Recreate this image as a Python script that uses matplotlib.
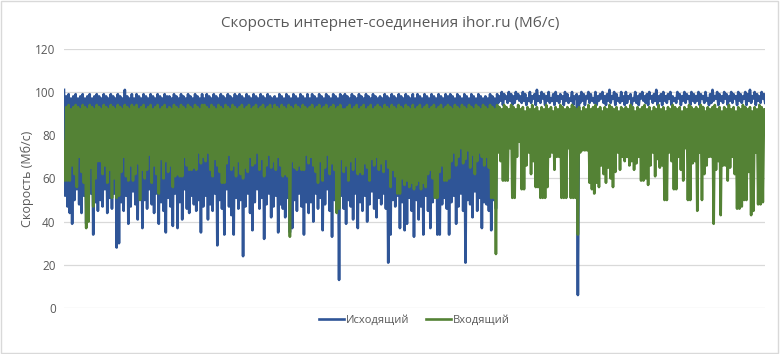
import numpy as np
import matplotlib.pyplot as plt
from matplotlib.patches import Rectangle

plt.rcParams['font.family'] = ['Open Sans', 'DejaVu Sans']

title = 'Скорость интернет-соединения ihor.ru (Мб/с)'
ylabel = 'Скорость (Мб/с)'
labels = ['Исходящий', 'Входящий']

# outgoing speed, Mb/s (30 values per row)
outgoing = [
    101, 52, 98, 47, 99, 44, 97, 39, 98, 50, 99, 55, 97, 48, 98, 44, 99, 52, 97, 39, 98, 46, 99, 53, 97, 34, 98, 49, 99, 45,
    98, 50, 97, 47, 99, 55, 98, 44, 97, 51, 99, 46, 98, 53, 97, 28, 99, 30, 98, 49, 97, 45, 101, 52, 98, 39, 97, 47, 99, 54,
    97, 48, 99, 41, 98, 52, 97, 37, 99, 50, 98, 46, 97, 55, 99, 48, 98, 44, 97, 53, 99, 39, 98, 49, 97, 45, 99, 35, 98, 51,
    98, 47, 97, 38, 99, 53, 98, 37, 97, 49, 99, 41, 98, 55, 97, 46, 99, 44, 98, 52, 97, 48, 99, 45, 98, 50, 97, 35, 99, 47,
    97, 52, 99, 41, 98, 48, 97, 45, 99, 53, 98, 29, 97, 50, 99, 46, 98, 34, 97, 55, 99, 47, 98, 43, 97, 34, 99, 51, 98, 46,
    99, 50, 98, 24, 97, 47, 99, 53, 98, 44, 97, 36, 99, 49, 98, 55, 97, 46, 99, 51, 98, 32, 97, 48, 99, 53, 98, 42, 97, 47,
    98, 52, 97, 35, 99, 48, 98, 46, 97, 42, 99, 51, 98, 35, 97, 37, 99, 50, 98, 45, 97, 53, 99, 47, 98, 34, 97, 49, 99, 44,
    97, 49, 99, 40, 98, 53, 97, 46, 99, 51, 98, 36, 97, 48, 99, 55, 98, 45, 97, 33, 99, 50, 98, 47, 97, 13, 99, 52, 98, 46,
    99, 39, 98, 50, 97, 47, 99, 41, 98, 53, 97, 37, 99, 49, 98, 45, 97, 52, 99, 40, 98, 48, 97, 54, 99, 46, 98, 42, 97, 51,
    98, 48, 97, 53, 99, 46, 98, 21, 97, 34, 99, 50, 98, 47, 97, 52, 99, 37, 98, 49, 97, 36, 99, 39, 98, 51, 97, 45, 99, 33,
    97, 50, 99, 41, 98, 47, 97, 34, 99, 52, 98, 45, 97, 37, 99, 49, 98, 53, 97, 34, 99, 34, 98, 48, 97, 51, 99, 46, 98, 34,
    99, 49, 98, 52, 97, 39, 99, 47, 98, 53, 97, 45, 99, 21, 98, 50, 97, 48, 99, 42, 98, 54, 97, 45, 99, 51, 98, 37, 97, 49,
    98, 48, 97, 45, 99, 36, 98, 50, 97, 46, 99, 95, 98, 96, 100, 94, 99, 97, 98, 95, 100, 96, 99, 94, 98, 95, 100, 97, 99, 96,
    98, 95, 100, 96, 99, 94, 97, 96, 100, 95, 98, 97, 99, 94, 101, 96, 98, 95, 100, 97, 99, 94, 98, 96, 100, 95, 97, 96, 99, 94,
    100, 96, 98, 95, 99, 97, 98, 94, 100, 96, 99, 95, 97, 96, 100, 94, 98, 97, 99, 6, 98, 95, 100, 96, 99, 94, 98, 97, 100, 95,
    99, 96, 97, 95, 100, 94, 98, 96, 99, 97, 100, 95, 98, 94, 99, 96, 101, 95, 98, 97, 100, 94, 99, 96, 97, 95, 100, 96, 98, 94,
    100, 95, 98, 97, 99, 94, 97, 96, 100, 95, 98, 94, 99, 97, 100, 96, 98, 95, 99, 94, 100, 97, 98, 95, 99, 96, 101, 94, 98, 96,
    99, 94, 100, 96, 98, 95, 99, 97, 100, 94, 98, 96, 97, 95, 100, 97, 99, 94, 98, 96, 100, 95, 99, 97, 98, 94, 100, 96, 99, 95,
    98, 96, 100, 94, 99, 97, 98, 95, 100, 96, 97, 94, 99, 95, 101, 96, 98, 97, 100, 94, 99, 96, 98, 95, 100, 97, 99, 94, 98, 96,
    100, 95, 99, 97, 98, 94, 100, 96, 99, 95, 98, 97, 100, 94, 99, 96, 101, 95, 98, 97, 100, 94, 99, 96, 98, 95, 100, 97, 99, 95,
]

# incoming speed, Mb/s
incoming = [
    77, 59, 93, 59, 94, 59, 92, 66, 93, 62, 94, 56, 93, 70, 92, 63, 94, 58, 93, 37, 92, 40, 94, 65, 93, 47, 92, 60, 94, 68,
    93, 68, 92, 62, 94, 66, 93, 58, 92, 64, 94, 51, 93, 60, 92, 51, 94, 52, 93, 63, 92, 70, 94, 61, 93, 59, 92, 66, 94, 59,
    93, 62, 94, 67, 92, 50, 93, 64, 94, 60, 92, 64, 93, 71, 94, 58, 92, 66, 93, 62, 94, 53, 92, 69, 93, 60, 94, 68, 92, 63,
    93, 66, 92, 56, 94, 61, 93, 62, 92, 61, 94, 61, 93, 70, 92, 66, 94, 64, 93, 64, 92, 65, 94, 64, 93, 72, 92, 67, 94, 70,
    94, 68, 93, 72, 92, 64, 94, 61, 93, 69, 92, 66, 94, 63, 93, 58, 92, 58, 94, 67, 93, 71, 92, 64, 94, 66, 93, 61, 92, 68,
    93, 62, 94, 60, 92, 65, 93, 63, 94, 70, 92, 66, 93, 67, 94, 72, 92, 64, 93, 69, 94, 61, 92, 66, 93, 71, 94, 65, 92, 68,
    94, 64, 93, 70, 92, 66, 94, 61, 93, 62, 92, 61, 94, 33, 93, 68, 92, 65, 94, 64, 93, 66, 92, 64, 94, 64, 93, 71, 92, 67,
    93, 70, 94, 66, 92, 63, 93, 58, 94, 68, 92, 59, 93, 65, 94, 71, 92, 62, 93, 67, 94, 64, 92, 44, 93, 46, 94, 69, 92, 63,
    92, 66, 93, 59, 94, 68, 92, 64, 93, 70, 94, 62, 92, 63, 93, 62, 94, 67, 92, 65, 93, 59, 94, 69, 92, 66, 93, 70, 94, 64,
    93, 67, 92, 63, 94, 69, 93, 65, 92, 56, 94, 64, 93, 61, 92, 53, 94, 53, 93, 60, 92, 57, 94, 59, 93, 56, 92, 58, 94, 55,
    92, 57, 93, 59, 94, 55, 92, 58, 93, 56, 94, 62, 92, 64, 93, 60, 94, 51, 92, 51, 93, 63, 94, 66, 92, 59, 93, 59, 94, 60,
    93, 68, 92, 72, 94, 66, 93, 70, 92, 74, 94, 67, 93, 69, 92, 73, 94, 65, 93, 71, 92, 62, 94, 68, 93, 72, 92, 70, 94, 66,
    93, 70, 92, 65, 94, 51, 93, 51, 92, 25, 94, 72, 93, 68, 92, 59, 94, 59, 93, 59, 92, 74, 94, 51, 93, 51, 92, 70, 94, 77,
    92, 55, 93, 55, 91, 66, 93, 72, 92, 62, 94, 68, 92, 56, 93, 56, 91, 51, 93, 51, 92, 51, 94, 56, 92, 70, 93, 72, 91, 64,
    93, 70, 92, 70, 94, 51, 93, 51, 92, 51, 93, 74, 92, 51, 94, 51, 93, 51, 92, 34, 93, 72, 91, 73, 93, 73, 92, 73, 94, 58,
    92, 55, 93, 53, 94, 58, 92, 56, 93, 66, 91, 62, 93, 58, 92, 65, 94, 60, 93, 56, 92, 63, 93, 72, 91, 64, 93, 70, 92, 68,
    93, 70, 92, 66, 94, 68, 93, 64, 91, 67, 93, 70, 92, 59, 93, 59, 94, 60, 92, 57, 93, 66, 91, 72, 93, 61, 92, 69, 94, 65,
    92, 66, 93, 50, 91, 50, 93, 72, 92, 68, 94, 55, 93, 55, 92, 70, 93, 64, 91, 59, 93, 74, 92, 50, 94, 50, 93, 67, 92, 68,
    93, 45, 92, 72, 94, 50, 93, 62, 91, 66, 93, 70, 92, 70, 93, 39, 94, 64, 92, 68, 93, 43, 91, 66, 93, 66, 92, 59, 94, 65,
    92, 70, 93, 62, 91, 46, 93, 46, 92, 47, 94, 50, 93, 50, 92, 63, 93, 43, 91, 45, 93, 72, 92, 48, 94, 48, 93, 49, 92, 92,
]

x = np.arange(len(outgoing))

fig = plt.figure(figsize=(7.8, 3.54), dpi=100)
ax = fig.add_axes([0.082, 0.130, 0.899, 0.732])

ax.plot(x, outgoing, color='#2F5597', lw=1.9, label=labels[0])
ax.plot(x, incoming, color='#548235', lw=1.9, label=labels[1])

ax.set_xlim(0, len(x) - 1)
ax.set_ylim(0, 120)
ax.set_yticks(range(0, 121, 20))
ax.set_xticks([])
ax.grid(axis='y', color='#D9D9D9', lw=0.9)
ax.set_axisbelow(True)
for s in ax.spines.values():
    s.set_visible(False)
ax.tick_params(axis='y', length=0, labelsize=8.5, labelcolor='#595959', pad=6)
ax.set_ylabel(ylabel, fontsize=9, color='#595959', labelpad=1)

fig.text(0.5, 0.935, title, ha='center', va='center', fontsize=11, color='#595959')

ax.legend(loc='upper center', bbox_to_anchor=(0.5, 0.01), ncol=2, frameon=False,
          fontsize=8, labelcolor='#595959', handlelength=2.2, handletextpad=0.2,
          columnspacing=1.5)

fig.add_artist(Rectangle((0.001, 0.002), 0.997, 0.995, transform=fig.transFigure,
                         fill=False, edgecolor='#D9D9D9', lw=1))

fig.savefig('out.png', dpi=100)
